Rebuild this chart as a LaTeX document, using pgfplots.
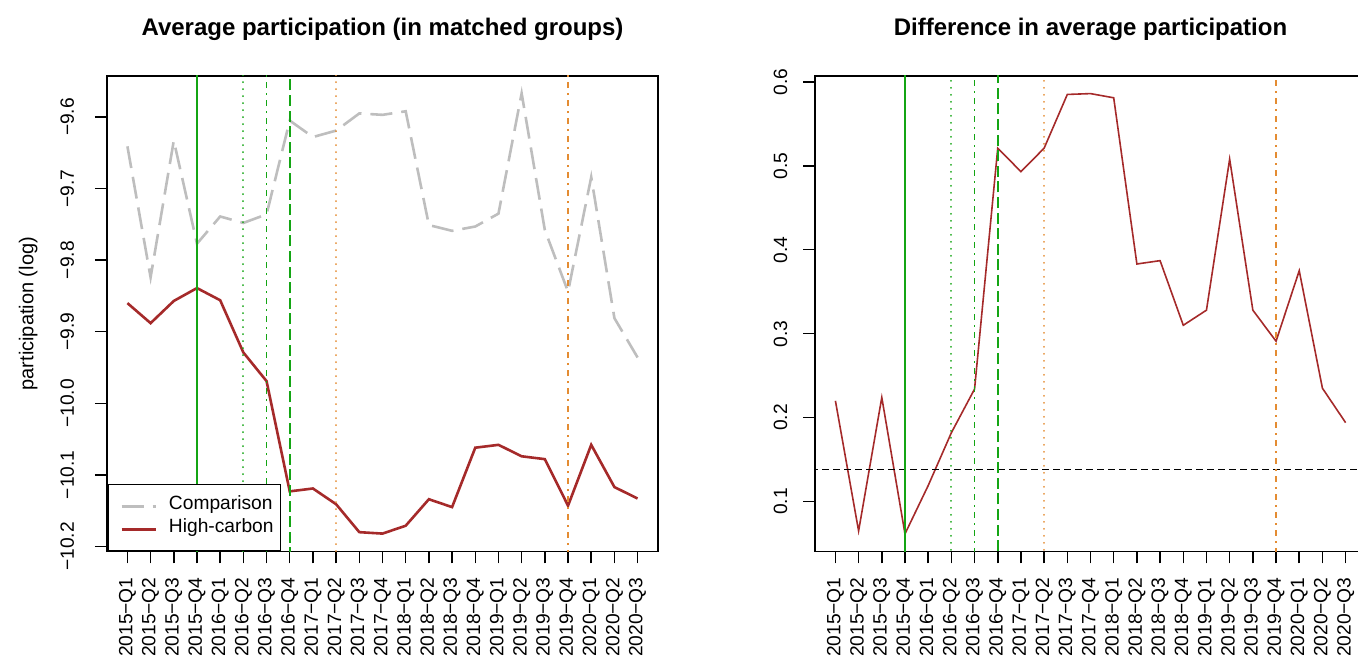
\documentclass[border=0pt]{standalone}
\usepackage{pgfplots}
\pgfplotsset{compat=1.18}
\usepackage{fontspec}
\setmainfont{Liberation Sans}
\definecolor{rbrown}{HTML}{A52A2A}
\definecolor{rgrey}{HTML}{BEBEBE}
\definecolor{vgreen}{RGB}{20,165,20}
\definecolor{vorange}{RGB}{228,140,50}
\newcommand{\tf}{\fontsize{9.6}{11.5}\selectfont}
\pgfplotsset{
  rstyle/.style={
    scale only axis, width=275.5pt, height=237.75pt,
    anchor=south west,
    xmin=-0.88, xmax=22.88,
    tick pos=left, tick align=outside, major tick length=6pt,
    axis line style={line width=0.75pt, black},
    every tick/.style={black, line width=0.75pt},
    xtick={0,...,22},
    xticklabels={2015−Q1,2015−Q2,2015−Q3,2015−Q4,2016−Q1,2016−Q2,2016−Q3,2016−Q4,2017−Q1,2017−Q2,2017−Q3,2017−Q4,2018−Q1,2018−Q2,2018−Q3,2018−Q4,2019−Q1,2019−Q2,2019−Q3,2019−Q4,2020−Q1,2020−Q2,2020−Q3},
    xticklabel style={rotate=90, anchor=east, inner sep=0pt, font=\tf},
    xticklabel shift=6.75pt,
    yticklabel style={rotate=90, anchor=base, font=\tf},
    every axis title/.style={at={(0.5,1)}, anchor=base, yshift=20pt, font=\bfseries\fontsize{12}{14}\selectfont},
    every axis y label/.style={at={(axis description cs:-0.143,0.5)}, rotate=90, anchor=center, font=\fontsize{10}{12}\selectfont},
  },
  vsolid/.style={draw=vgreen, line width=0.85pt, forget plot},
  vdot/.style={line width=0.9pt, line cap=round, dash pattern=on 0.05pt off 3.45pt, forget plot},
  vdotdash/.style={line width=0.85pt, dash pattern=on 1.1pt off 2.4pt on 3.1pt off 2.4pt, forget plot},
  vdash/.style={draw=vgreen, line width=0.85pt, dash pattern=on 5.5pt off 2.3pt, forget plot},
}
\begin{document}
\begin{tikzpicture}
% ---------- left panel ----------
\begin{axis}[rstyle, at={(53.5pt,52.75pt)},
  ymin=-10.207, ymax=-9.5427,
  ytick={-10.2,-10.1,-10.0,-9.9,-9.8,-9.7,-9.6},
  yticklabels={−10.2,−10.1,−10.0,−9.9,−9.8,−9.7,−9.6},
  yticklabel shift=10.5pt,
  title={Average participation (in matched groups)},
  ylabel={participation (log)},
  legend style={at={(0,0)}, anchor=south west, draw=black, line width=0.75pt, fill=white,
    inner xsep=1.5pt, inner ysep=5pt, row sep=0pt,
    nodes={inner xsep=2pt, inner ysep=0pt, text height=7.5pt, text depth=4pt, font=\tf}},
  legend cell align=left,
  legend image code/.code={\path (0pt,0pt) (25.82pt,0pt); \draw[#1] (4.75pt,0pt) -- (21.82pt,0pt);},
]
\addplot[rgrey, line width=1.3pt, dash pattern=on 11pt off 4.5pt] coordinates {
(0,-9.641) (1,-9.824) (2,-9.633) (3,-9.777) (4,-9.739) (5,-9.748) (6,-9.736) (7,-9.605)
(8,-9.628) (9,-9.619) (10,-9.595) (11,-9.597) (12,-9.592) (13,-9.751) (14,-9.759) (15,-9.753)
(16,-9.735) (17,-9.567) (18,-9.758) (19,-9.844) (20,-9.684) (21,-9.881) (22,-9.936)};
\addlegendentry{Comparison}
\addplot[rbrown, line width=1.3pt] coordinates {
(0,-9.860) (1,-9.888) (2,-9.857) (3,-9.839) (4,-9.856) (5,-9.929) (6,-9.969) (7,-10.123)
(8,-10.119) (9,-10.141) (10,-10.180) (11,-10.182) (12,-10.171) (13,-10.134) (14,-10.145) (15,-10.062)
(16,-10.058) (17,-10.074) (18,-10.078) (19,-10.143) (20,-10.058) (21,-10.117) (22,-10.133)};
\addlegendentry{High-carbon}
\addplot[vsolid] coordinates {(3,-10.5) (3,-9.3)};
\addplot[vdot, draw=vgreen] coordinates {(5,-10.5) (5,-9.3)};
\addplot[vdotdash, draw=vgreen] coordinates {(6,-10.5) (6,-9.3)};
\addplot[vdash] coordinates {(7,-10.5) (7,-9.3)};
\addplot[vdot, draw=vorange] coordinates {(9,-10.5) (9,-9.3)};
\addplot[vdotdash, draw=vorange] coordinates {(19,-10.5) (19,-9.3)};
\end{axis}
% ---------- right panel ----------
\begin{axis}[rstyle, at={(407.5pt,52.75pt)},
  ymin=0.0405, ymax=0.607,
  ytick={0.1,0.2,0.3,0.4,0.5,0.6},
  yticklabels={0.1,0.2,0.3,0.4,0.5,0.6},
  yticklabel shift=8pt,
  title={Difference in average participation},
]
\addplot[rbrown, line width=0.8pt] coordinates {
(0,0.220) (1,0.065) (2,0.224) (3,0.0615) (4,0.119) (5,0.182) (6,0.234) (7,0.521)
(8,0.493) (9,0.521) (10,0.585) (11,0.586) (12,0.581) (13,0.383) (14,0.387) (15,0.310)
(16,0.328) (17,0.508) (18,0.328) (19,0.291) (20,0.375) (21,0.235) (22,0.194)};
\addplot[black, line width=0.75pt, dash pattern=on 3.5pt off 2pt] coordinates {(-2,0.138) (25,0.138)};
\addplot[vsolid] coordinates {(3,-1) (3,1)};
\addplot[vdot, draw=vgreen] coordinates {(5,-1) (5,1)};
\addplot[vdotdash, draw=vgreen] coordinates {(6,-1) (6,1)};
\addplot[vdash] coordinates {(7,-1) (7,1)};
\addplot[vdot, draw=vorange] coordinates {(9,-1) (9,1)};
\addplot[vdotdash, draw=vorange] coordinates {(19,-1) (19,1)};
\end{axis}
\pgfresetboundingbox
\useasboundingbox (0,0) rectangle (679pt,328.5pt);
\end{tikzpicture}
\end{document}
